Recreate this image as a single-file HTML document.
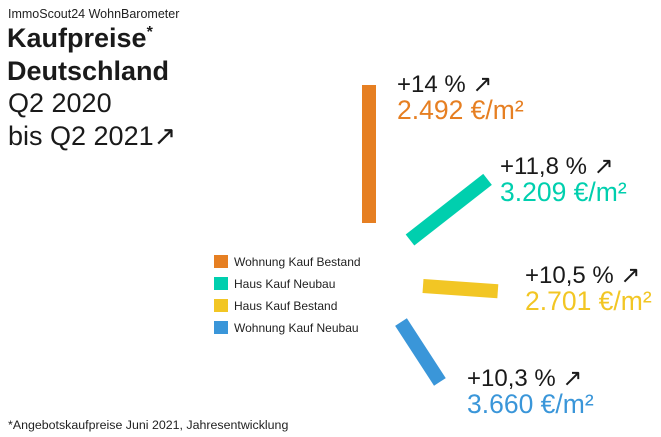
<!DOCTYPE html>
<html><head><meta charset="utf-8">
<style>
body{margin:0;background:#fff;width:661px;height:437px;overflow:hidden;font-family:"Liberation Sans",sans-serif;color:#1a1a1a}
svg{position:absolute;left:0;top:0}
</style></head>
<body>
<svg id="chart" width="661" height="437">
  <text x="8" y="18" font-size="12.5" fill="#222">ImmoScout24 WohnBarometer</text>
  <text x="7" y="47" font-size="27" font-weight="bold" fill="#1a1a1a">Kaufpreise<tspan font-size="16" dy="-10">*</tspan></text>
  <text x="7" y="80" font-size="27" font-weight="bold" fill="#1a1a1a">Deutschland</text>
  <text x="8" y="112" font-size="27" fill="#1a1a1a">Q2 2020</text>
  <text x="8" y="145" font-size="27" fill="#1a1a1a">bis Q2 2021↗</text>
  <text x="8" y="429" font-size="12.4" fill="#222">*Angebotskaufpreise Juni 2021, Jahresentwicklung</text>
  <g id="legend"></g>
  <g id="bars"></g>
  <g id="labels"></g>
</svg>
<script>
const categories = ["Wohnung Kauf Bestand","Haus Kauf Neubau","Haus Kauf Bestand","Wohnung Kauf Neubau"];
const changes = [14, 11.8, 10.5, 10.3];
const changeLabels = ["+14 %","+11,8 %","+10,5 %","+10,3 %"];
const priceLabels = ["2.492 €/m²","3.209 €/m²","2.701 €/m²","3.660 €/m²"];

const colors = ["#e67f22","#00cfae","#f2c624","#3a96d9"];
const anchors = [[369,223],[410,240],[423,286],[401,322]];
const angles = [-90,-38,4,57];
const labelPos = [[397,92],[500,174],[525,283],[467,386]];

const lenScale = v => 66 + (v - 10) / (14 - 10) * (138 - 66);
const NS = "http://www.w3.org/2000/svg";
const barsG = document.getElementById('bars');
const labelsG = document.getElementById('labels');
const legendG = document.getElementById('legend');

changes.forEach((v,i)=>{
  const L = lenScale(v);
  const [ax,ay] = anchors[i];
  const r = document.createElementNS(NS,'rect');
  r.setAttribute('x', ax);
  r.setAttribute('y', ay-7);
  r.setAttribute('width', L);
  r.setAttribute('height', 14);
  r.setAttribute('fill', colors[i]);
  r.setAttribute('transform', `rotate(${angles[i]} ${ax} ${ay})`);
  
  
  barsG.appendChild(r);

  const [lx,ly] = labelPos[i];
  const t1 = document.createElementNS(NS,'text');
  t1.setAttribute('x', lx); t1.setAttribute('y', ly);
  t1.setAttribute('font-size','24'); t1.setAttribute('fill','#1a1a1a');
  t1.textContent = changeLabels[i] + ' ↗';
  
  
  labelsG.appendChild(t1);
  const t2 = document.createElementNS(NS,'text');
  t2.setAttribute('x', lx); t2.setAttribute('y', ly+27);
  t2.setAttribute('font-size','26.5'); t2.setAttribute('fill',colors[i]);
  t2.textContent = priceLabels[i];
  
  
  labelsG.appendChild(t2);

  const sw = document.createElementNS(NS,'rect');
  sw.setAttribute('x', 214); sw.setAttribute('y', 255 + i*22);
  sw.setAttribute('width', 14); sw.setAttribute('height', 13);
  sw.setAttribute('fill', colors[i]);
  
  
  legendG.appendChild(sw);
  const lt = document.createElementNS(NS,'text');
  lt.setAttribute('x', 234); lt.setAttribute('y', 266 + i*22);
  lt.setAttribute('font-size','12'); lt.setAttribute('fill','#222');
  lt.textContent = categories[i];
  
  
  legendG.appendChild(lt);
});
</script>
</body></html>
